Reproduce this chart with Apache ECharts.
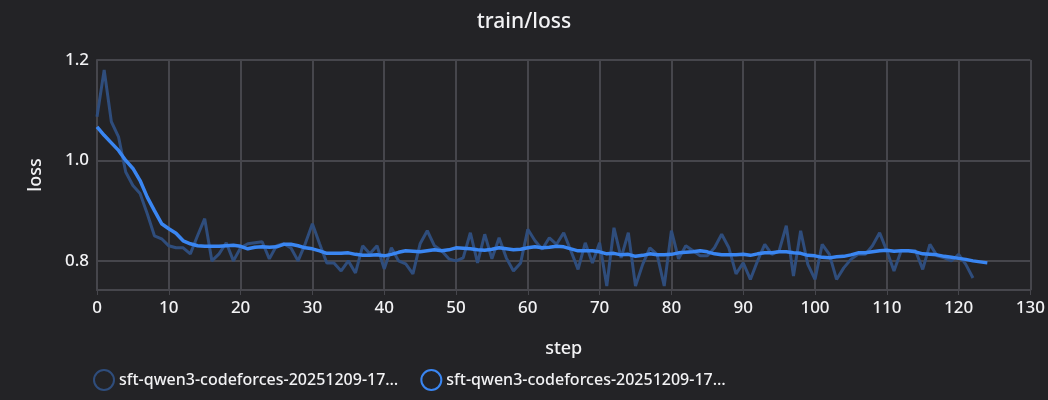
<!DOCTYPE html>
<html>
<head>
<meta charset="utf-8">
<script src="https://cdn.jsdelivr.net/npm/echarts@6/dist/echarts.min.js"></script>
<style>html,body{margin:0;background:#232326}#main{width:1048px;height:400px}</style>
</head>
<body>
<div id="main"></div>
<script>
var rawLoss = [1.087, 1.18, 1.077, 1.047, 0.977, 0.95, 0.934, 0.894, 0.85, 0.844,
    0.83, 0.826, 0.826, 0.814, 0.85, 0.884, 0.80, 0.814, 0.836, 0.80,
    0.826, 0.834, 0.836, 0.838, 0.804, 0.83, 0.834, 0.826, 0.80, 0.834,
    0.874, 0.834, 0.796, 0.796, 0.78, 0.80, 0.776, 0.83, 0.814, 0.83,
    0.784, 0.826, 0.80, 0.794, 0.774, 0.834, 0.86, 0.83, 0.82, 0.804,
    0.80, 0.806, 0.856, 0.796, 0.853, 0.804, 0.846, 0.806, 0.78, 0.796,
    0.863, 0.84, 0.823, 0.846, 0.833, 0.856, 0.82, 0.783, 0.836, 0.796,
    0.836, 0.75, 0.866, 0.806, 0.856, 0.75, 0.793, 0.826, 0.813, 0.75,
    0.86, 0.804, 0.83, 0.82, 0.81, 0.81, 0.826, 0.853, 0.826, 0.774,
    0.796, 0.763, 0.80, 0.833, 0.813, 0.82, 0.87, 0.77, 0.86, 0.793,
    0.763, 0.833, 0.813, 0.763, 0.786, 0.803, 0.813, 0.813, 0.83, 0.856,
    0.82, 0.78, 0.82, 0.82, 0.82, 0.783, 0.833, 0.81, 0.806, 0.80,
    0.813, 0.793, 0.766];
var smoothLoss = [1.067, 1.05, 1.035, 1.02, 1.0, 0.984, 0.96, 0.927, 0.9, 0.874,
    0.864, 0.855, 0.84, 0.834, 0.83, 0.829, 0.829, 0.829, 0.83, 0.831,
    0.829, 0.824, 0.827, 0.828, 0.827, 0.828, 0.833, 0.833, 0.83, 0.826,
    0.824, 0.82, 0.815, 0.815, 0.815, 0.816, 0.813, 0.811, 0.811, 0.812,
    0.81, 0.813, 0.817, 0.82, 0.819, 0.818, 0.82, 0.822, 0.82, 0.822,
    0.826, 0.825, 0.824, 0.822, 0.821, 0.823, 0.826, 0.824, 0.822, 0.823,
    0.826, 0.828, 0.826, 0.827, 0.829, 0.828, 0.824, 0.82, 0.82, 0.82,
    0.818, 0.814, 0.815, 0.812, 0.813, 0.809, 0.811, 0.814, 0.812, 0.812,
    0.813, 0.816, 0.817, 0.818, 0.82, 0.818, 0.814, 0.812, 0.812, 0.812,
    0.813, 0.811, 0.814, 0.816, 0.816, 0.818, 0.818, 0.816, 0.815, 0.811,
    0.81, 0.807, 0.806, 0.808, 0.809, 0.812, 0.816, 0.816, 0.818, 0.82,
    0.821, 0.819, 0.82, 0.82, 0.818, 0.814, 0.813, 0.812, 0.809, 0.807,
    0.805, 0.803, 0.8, 0.798, 0.796];
var yTicks = [0.8, 1.0, 1.2];
var legendText = 'sft-qwen3-codeforces-20251209-17…';

function pairs(arr) {
    return arr.map(function (v, i) { return [i, v]; });
}

var chart = echarts.init(document.getElementById('main'));
var textColor = '#f2f2f4';
var gridColor = '#46464c';
chart.setOption({
    backgroundColor: '#232326',
    textStyle: { fontFamily: 'Noto Sans' },
    title: {
        text: 'train/loss', left: 'center', top: 7,
        textStyle: { color: textColor, fontSize: 21, fontWeight: 500 }
    },
    grid: { left: 97, right: 13, top: 60, bottom: 110 },
    legend: {
        left: 88, top: 364, itemGap: 22, itemWidth: 20, itemHeight: 20, icon: 'circle',
        textStyle: { color: textColor, fontSize: 16, fontWeight: 500 },
        formatter: function () { return legendText; },
        data: ['raw', 'smoothed']
    },
    xAxis: {
        type: 'value', min: 0, max: 130, interval: 10,
        name: 'step', nameLocation: 'middle', nameGap: 50,
        nameTextStyle: { color: textColor, fontSize: 18, fontWeight: 500 },
        axisLine: { lineStyle: { color: gridColor, width: 2 } },
        axisTick: { show: true, length: 5, lineStyle: { color: gridColor } },
        axisLabel: { color: textColor, fontSize: 17, fontWeight: 500, margin: 10 },
        splitLine: { show: true, lineStyle: { color: gridColor, width: 2 } }
    },
    yAxis: {
        type: 'value', min: 0.742, max: 1.2,
        name: 'loss', nameLocation: 'middle', nameGap: 52, nameRotate: 90,
        nameTextStyle: { color: textColor, fontSize: 18, fontWeight: 500 },
        axisLine: { show: true, lineStyle: { color: gridColor, width: 2 } },
        axisTick: { show: false, customValues: yTicks },
        axisLabel: {
            color: textColor, fontSize: 17, fontWeight: 500, customValues: yTicks,
            formatter: function (v) { return v.toFixed(1); }
        },
        splitLine: { show: true, lineStyle: { color: gridColor, width: 2 } }
    },
    series: [
        {
            name: 'raw', type: 'line', data: pairs(rawLoss), showSymbol: false,
            lineStyle: { color: '#2f4d7c', width: 3 },
            itemStyle: { color: 'transparent', borderColor: '#2f4d7c', borderWidth: 2 }
        },
        {
            name: 'smoothed', type: 'line', data: pairs(smoothLoss), showSymbol: false,
            lineStyle: { color: '#3a86f2', width: 3.5 },
            itemStyle: { color: 'transparent', borderColor: '#3a86f2', borderWidth: 2 }
        }
    ]
});
</script>
</body>
</html>
